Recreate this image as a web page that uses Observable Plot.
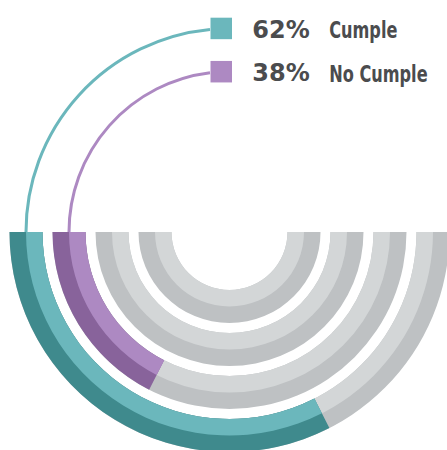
<!DOCTYPE html>
<html>
<head>
<meta charset="utf-8">
<script src="https://cdn.jsdelivr.net/npm/d3@7"></script>
<script src="https://cdn.jsdelivr.net/npm/@observablehq/plot@0.6"></script>
<style>
  html, body { margin: 0; padding: 0; background: #ffffff; }
  #chart svg { display: block; }
</style>
</head>
<body>
<div id="chart"></div>
<script>
// ---- data ----
const categories = ["Cumple", "No Cumple"];
const percentLabels = ["62%", "38%"];
// sweep of each highlighted ring, in % of the half circle, as drawn
const arcShare = [65, 35];
const darkColors = ["#3f8a8d", "#88639b"];
const lightColors = ["#6bb7bc", "#ad89c2"];
const grayDark = "#bec1c3";
const grayLight = "#d3d6d7";
const ringCount = 4;

// ---- layout (chart units, centre of the rings at 0,0) ----
const OUTER = 220, STEP = 43, WIDTH = 33, LEGEND_X = -19.5, SQUARE = 21.5;
const NARROW = 0.78; // horizontal squeeze of the condensed category labels

const legend = categories.map((c, i) => {
  const rMid = OUTER - i * STEP - WIDTH / 2;
  return {
    category: c,
    label: percentLabels[i],
    color: lightColors[i],
    x: LEGEND_X + SQUARE / 2,
    y: Math.sqrt(rMid * rMid - LEGEND_X * LEGEND_X) + 1.5
  };
});

function rings(index, scales) {
  const cx = scales.x(0), cy = scales.y(0);
  const k = scales.x(1) - scales.x(0);
  const g = d3.create("svg:g").attr("transform", `translate(${cx},${cy})`);
  const arc = d3.arc();
  const A0 = 1.5 * Math.PI, A1 = 0.5 * Math.PI;
  for (let i = 0; i < ringCount; i++) {
    const rO = (OUTER - i * STEP) * k, rI = rO - WIDTH * k, rM = (rO + rI) / 2;
    const share = i < arcShare.length ? arcShare[i] / 100 : 0;
    g.append("path").attr("fill", grayDark)
      .attr("d", arc({innerRadius: rI, outerRadius: rO, startAngle: A0, endAngle: A1}));
    g.append("path").attr("fill", grayLight)
      .attr("d", arc({innerRadius: rI, outerRadius: rM, startAngle: A0, endAngle: A1}));
    if (share > 0) {
      const aEnd = A0 - share * Math.PI;
      g.append("path").attr("fill", darkColors[i])
        .attr("d", arc({innerRadius: rI, outerRadius: rO, startAngle: A0, endAngle: aEnd}));
      g.append("path").attr("fill", lightColors[i])
        .attr("d", arc({innerRadius: rI, outerRadius: rM, startAngle: A0, endAngle: aEnd}));
    }
  }
  categories.forEach((c, i) => {
    const r = (OUTER - i * STEP - WIDTH / 2) * k;
    const theta = Math.acos((-LEGEND_X * k) / r);
    const p = d3.path();
    p.moveTo(-r, 0);
    p.arc(0, 0, r, Math.PI, Math.PI + theta, false);
    g.append("path").attr("d", p.toString()).attr("fill", "none")
      .attr("stroke", lightColors[i]).attr("stroke-width", 3);
  });
  return g.node();
}

const NARROW_FONT = "'DejaVu Sans Condensed', 'DejaVu Sans', sans-serif";

const chart = Plot.plot({
  width: 447,
  height: 450,
  margin: 0,
  x: {domain: [-229.5, 217.5], range: [0, 447], axis: null},
  y: {domain: [-218, 232], range: [450, 0], axis: null},
  color: {type: "identity"},
  style: {background: "#ffffff"},
  marks: [
    rings,
    Plot.dot(legend, {x: "x", y: "y", symbol: "square", r: SQUARE / Math.sqrt(Math.PI), fill: "color", stroke: null}),
    Plot.text(legend, {x: "x", y: "y", text: "label", dx: 31, dy: 2, textAnchor: "start",
      fontFamily: "DejaVu Sans", fontWeight: "bold", fontSize: 24, fill: "#4b4c4e",
      letterSpacing: 0.6}),
    Plot.text(legend, {x: "x", y: "y", text: "category", dx: 108, dy: 2.5, textAnchor: "start",
      fontFamily: NARROW_FONT, fontWeight: "bold", fontSize: 23, fill: "#4b4c4e"})
  ]
});

// squeeze the condensed labels horizontally around their own anchor
chart.querySelectorAll("g[font-family]").forEach(grp => {
  if (!grp.getAttribute("font-family").includes("Condensed")) return;
  grp.querySelectorAll("text").forEach(t => {
    const tr = t.getAttribute("transform") || "";
    const m = /translate\(\s*([-\d.e]+)[\s,]+([-\d.e]+)\s*\)/.exec(tr);
    const ax = (m ? parseFloat(m[1]) : 0) + (parseFloat(t.getAttribute("x")) || 0);
    t.setAttribute("transform", `translate(${ax},0) scale(${NARROW},1) translate(${-ax},0) ${tr}`);
  });
});

document.getElementById("chart").append(chart);
</script>
</body>
</html>
